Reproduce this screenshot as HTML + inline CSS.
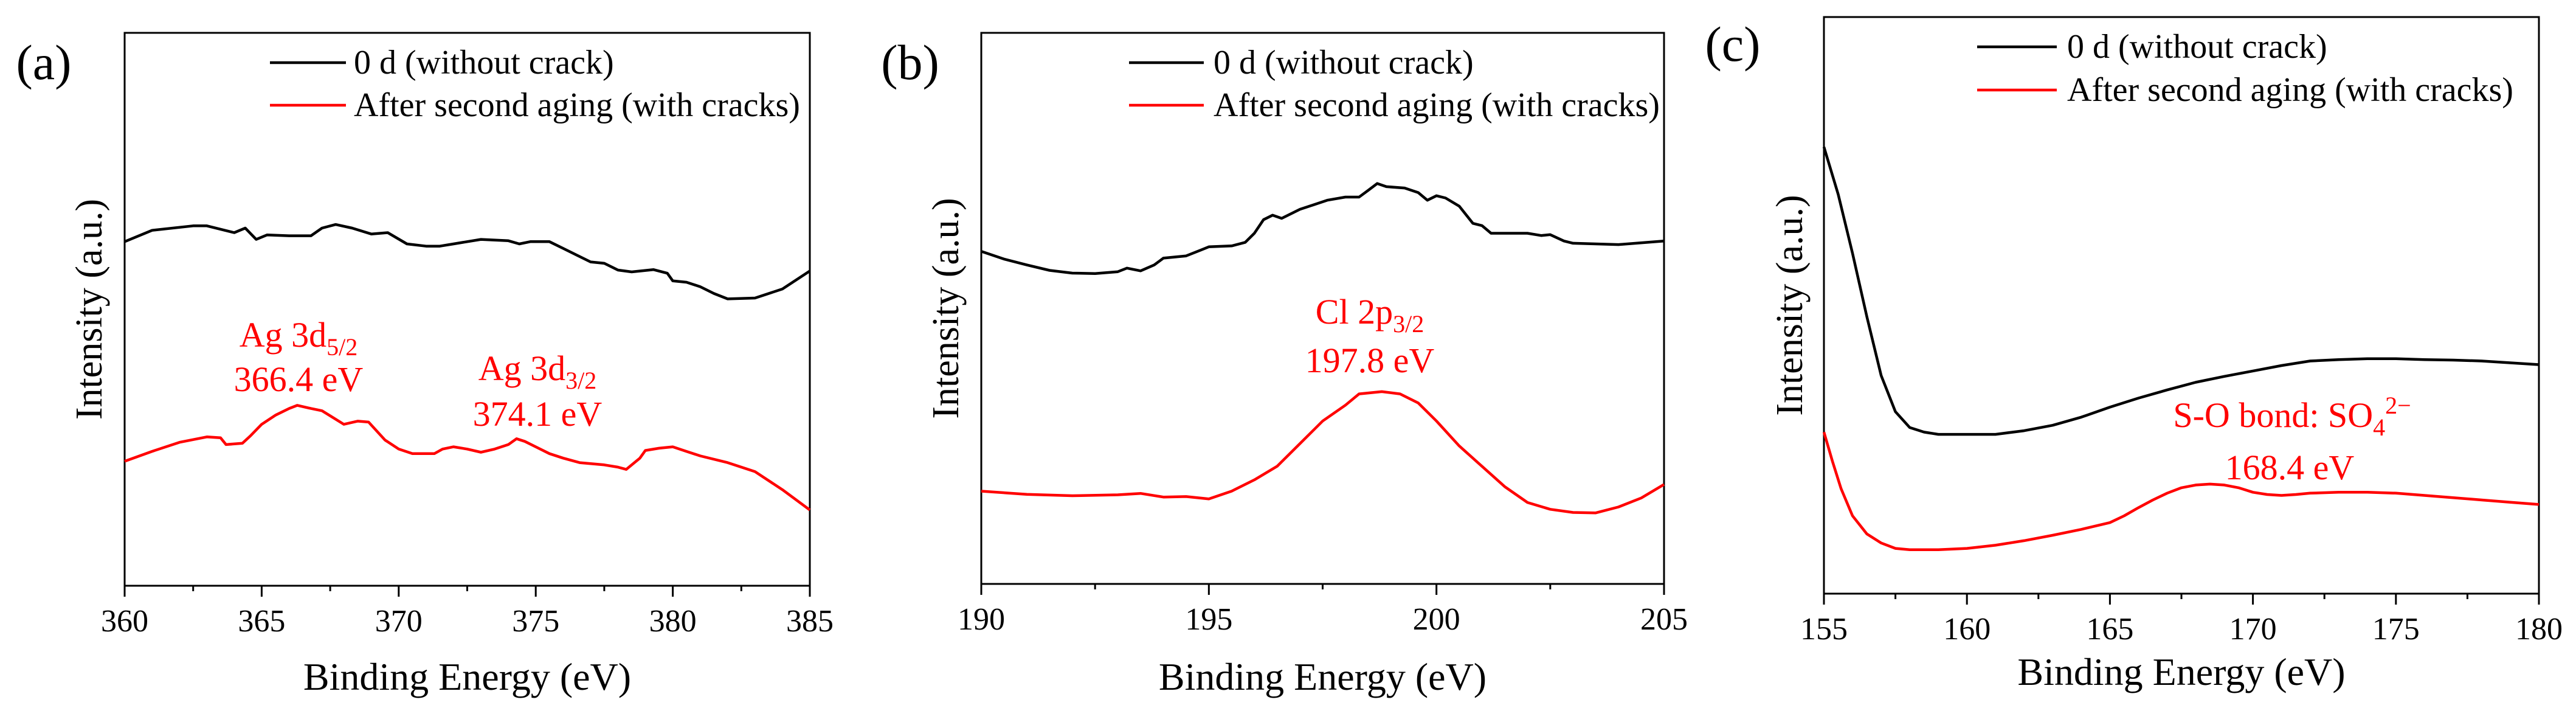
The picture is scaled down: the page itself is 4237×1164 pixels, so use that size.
<!DOCTYPE html>
<html><head><meta charset="utf-8">
<style>
html,body{margin:0;padding:0;background:#fff;}
svg{display:block;}
svg text{font-family:"Liberation Serif","Times New Roman",serif;}
</style></head>
<body>
<svg id="fig" width="4237" height="1164" viewBox="0 0 4237 1164" xmlns="http://www.w3.org/2000/svg" font-family="Liberation Serif, Times New Roman, serif"></svg>
<script>
// Panel (a) Ag 3d data
const aX0 = [360,361,362.5,363,364,364.4,364.8,365.2,366,366.8,367.2,367.7,368.3,369,369.6,370.3,371,371.5,372,373,374,374.4,374.8,375.5,376,376.5,377,377.5,378,378.5,379.3,379.8,380,380.5,381,381.5,382,383,384,385];
const aY0 = [1025,1050,1060,1060,1045,1055,1030,1040,1038,1038,1055,1063,1055,1042,1045,1020,1015,1015,1020,1030,1027,1020,1025,1025,1010,995,980,977,962,958,963,955,938,935,925,910,898,900,920,960];
const aX1 = [360,361,362,363,363.5,363.7,364.3,364.6,365,365.5,366,366.3,366.8,367.2,367.6,368,368.5,368.9,369.5,370,370.5,371.3,371.6,372,372.5,373,373.5,374,374.3,374.6,375,375.5,376,376.6,377.5,378,378.3,378.8,379,379.5,380,380.5,381,382,383,384,385];
const aY1 = [538,560,580,592,590,575,578,595,620,640,655,662,655,650,635,620,627,625,585,565,555,555,565,570,565,558,565,575,588,582,570,555,545,535,530,525,520,545,562,567,570,560,550,535,515,475,430];
// Panel (b) Cl 2p data
const bX0 = [190,190.5,191,191.5,192,192.5,193,193.2,193.5,193.8,194,194.5,194.8,195,195.5,195.8,196,196.2,196.4,196.6,197,197.3,197.6,198,198.3,198.5,198.7,198.9,199.3,199.6,199.8,200,200.2,200.5,200.8,201,201.2,201.5,202,202.3,202.5,202.8,203,204,205];
const bY0 = [1005,988,975,963,957,956,960,968,962,975,990,995,1007,1015,1017,1025,1045,1075,1085,1078,1098,1108,1118,1125,1125,1140,1155,1148,1145,1135,1118,1128,1123,1105,1067,1062,1045,1045,1045,1040,1042,1028,1023,1020,1028];
const bX1 = [190,191,192,193,193.5,194,194.5,195,195.5,196,196.5,197,197.5,198,198.3,198.8,199.2,199.6,200,200.5,201,201.5,202,202.5,203,203.5,204,204.5,205];
const bY1 = [475,468,465,467,470,462,463,458,475,500,530,580,630,665,690,695,690,670,630,575,530,485,450,435,428,427,440,460,490];
// Panel (c) S 2p data
const cX0 = [155,155.5,156,156.5,157,157.5,158,158.5,159,160,161,162,163,164,165,166,167,168,169,170,171,172,173,174,175,176,177,178,179,180];
const cY0 = [1235,1130,1000,860,730,650,615,605,600,600,600,608,620,638,660,680,698,715,728,740,752,762,765,767,767,765,764,762,758,754];
const cX1 = [155,155.3,155.6,156,156.5,157,157.5,158,159,160,161,162,163,164,165,165.5,166,166.5,167,167.5,168,168.5,169,169.5,170,170.5,171,171.5,172,173,174,175,176,177,178,179,180];
const cY1 = [605,540,480,420,380,360,348,345,345,348,355,365,377,390,405,420,438,455,470,482,488,490,488,482,472,467,465,467,470,472,472,470,465,460,455,450,445];
const xTicksA = [360,365,370,375,380,385];
const xTicksB = [190,195,200,205];
const xTicksC = [155,160,165,170,175,180];

const svg = document.getElementById('fig');
const NS = 'http://www.w3.org/2000/svg';
const FF = 'Liberation Serif, Times New Roman, serif';
function mk(tag, attrs){const e=document.createElementNS(NS,tag);for(const k in attrs)e.setAttribute(k,attrs[k]);if(tag==='text')e.setAttribute('font-family',FF);svg.appendChild(e);return e;}

const panels = [
 {id:'a', L:205, R:1332, T:54, B:963, xmin:360, xmax:385, ymin:262, ymax:1488, ticks:xTicksA, minor:2.5,
  s:[[aX0,aY0,'#000'],[aX1,aY1,'#f00']], lab:{x:72,y:130}, legLine:[444,569], legText:582, legY:[103,173], ylab:147, xlabY:1112,
  ann:[{x:491,y:570,t:'Ag 3d',sub:'5/2'},{x:491,y:643,t:'366.4 eV'},{x:884,y:625,t:'Ag 3d',sub:'3/2'},{x:884,y:700,t:'374.1 eV'}]},
 {id:'b', L:1614, R:2737, T:54, B:960, xmin:190, xmax:205, ymin:270, ymax:1488, ticks:xTicksB, minor:2.5,
  s:[[bX0,bY0,'#000'],[bX1,bY1,'#f00']], lab:{x:1497,y:130}, legLine:[1857,1980], legText:1996, legY:[103,173], ylab:1556, xlabY:1112,
  ann:[{x:2253,y:532,t:'Cl 2p',sub:'3/2'},{x:2253,y:612,t:'197.8 eV'}]},
 {id:'c', L:3000, R:4176, T:28, B:976, xmin:155, xmax:180, ymin:248, ymax:1522, ticks:xTicksC, minor:2.5,
  s:[[cX0,cY0,'#000'],[cX1,cY1,'#f00']], lab:{x:2850,y:100}, legLine:[3252,3383], legText:3400, legY:[77,148], ylab:2944, xlabY:1104,
  ann:[{x:3770,y:702,t:'S-O bond: SO',sub:'4',sup:'2\u2212'},{x:3766,y:788,t:'168.4 eV'}]}
];

panels.forEach(p=>{
  const sx=v=>p.L+(v-p.xmin)/(p.xmax-p.xmin)*(p.R-p.L);
  const sy=v=>p.B-(v-p.ymin)/(p.ymax-p.ymin)*(p.B-p.T);
  let e;
  e=mk('rect',{x:p.L,y:p.T,width:p.R-p.L,height:p.B-p.T,fill:'none',stroke:'#000','stroke-width':3});
  
  
  for(let v=p.xmin; v<=p.xmax+1e-9; v+=p.minor){
    const major=p.ticks.some(t=>Math.abs(t-v)<1e-6);
    e=mk('line',{x1:sx(v),x2:sx(v),y1:p.B,y2:p.B+(major?18:9),stroke:'#000','stroke-width':3});
    
    
  }
  p.ticks.forEach(t=>{
    e=mk('text',{x:sx(t),y:p.B+75,'text-anchor':'middle','font-size':52,fill:'#000'});
    e.textContent=t;
    
    
  });
  p.s.forEach((s,i)=>{
    const d=s[0].map((x,j)=>(j?'L':'M')+sx(x).toFixed(1)+' '+sy(s[1][j]).toFixed(1)).join(' ');
    e=mk('path',{d:d,fill:'none',stroke:s[2],'stroke-width':4.5,'stroke-linejoin':'round'});
    
    
  });
  e=mk('text',{x:(p.L+p.R)/2,y:p.xlabY+22,'text-anchor':'middle','font-size':64,fill:'#000'});
  e.textContent='Binding Energy (eV)';
  
  
  e=mk('text',{x:0,y:0,'text-anchor':'middle','font-size':62,fill:'#000',transform:'translate('+(p.ylab+20)+','+((p.T+p.B)/2)+') rotate(-90)'});
  e.textContent='Intensity (a.u.)';
  
  
  e=mk('text',{x:p.lab.x,y:p.lab.y,'text-anchor':'middle','font-size':82,fill:'#000'});
  e.textContent='('+p.id+')';
  
  
  ['0 d (without crack)','After second aging (with cracks)'].forEach((t,i)=>{
    e=mk('line',{x1:p.legLine[0],x2:p.legLine[1],y1:p.legY[i],y2:p.legY[i],stroke:i?'#f00':'#000','stroke-width':4.5});
    
    
    e=mk('text',{x:p.legText,y:p.legY[i]+18,'font-size':56,fill:'#000'});
    e.textContent=t;
    
    
  });
  p.ann.forEach(a=>{
    e=mk('text',{x:a.x,y:a.y,'text-anchor':'middle','font-size':58,fill:'#f00'});
    
    
    const t1=document.createElementNS(NS,'tspan');t1.textContent=a.t;e.appendChild(t1);
    if(a.sub){const t2=document.createElementNS(NS,'tspan');t2.setAttribute('font-size',40);t2.setAttribute('dy',14);t2.textContent=a.sub;e.appendChild(t2);}
    if(a.sup){const t3=document.createElementNS(NS,'tspan');t3.setAttribute('font-size',40);t3.setAttribute('dy',-36);t3.textContent=a.sup;e.appendChild(t3);}
  });
});
</script>
</body></html>
